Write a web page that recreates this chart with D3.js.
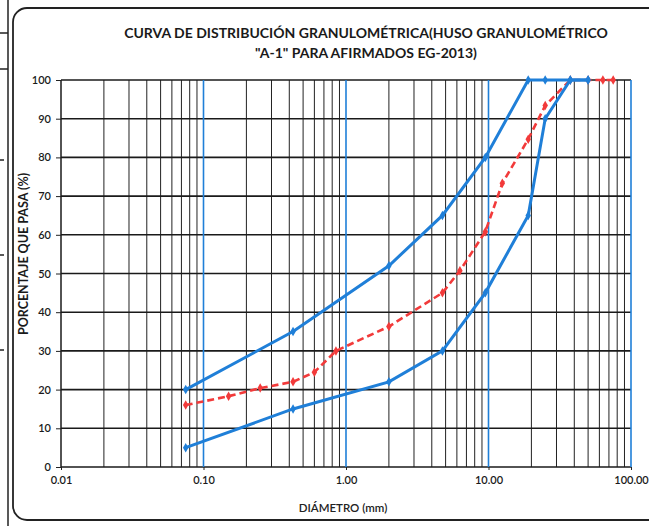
<!DOCTYPE html>
<html>
<head>
<meta charset="utf-8">
<script src="https://cdn.jsdelivr.net/npm/d3@7"></script>
<style>
  html, body { margin: 0; padding: 0; background: #fff; }
  svg { display: block; }
  text { font-family: Lato, "Open Sans", sans-serif; }
</style>
</head>
<body>
<script>
// Sieve openings (mm) and percent passing
const sieves = [0.075, 0.15, 0.25, 0.425, 0.6, 0.85, 2.0, 4.75, 6.3, 9.5, 12.5, 19, 25, 37.5, 50, 63.5, 75];
const muestra = [16, 18.3, 20.4, 22, 24.5, 30, 36.3, 45, 50.7, 60.8, 73.3, 84.7, 93.4, 100, 100, 100, 100];

// Gradation band "A-1"
const husoSieves = [0.075, 0.425, 2.0, 4.75, 9.5, 19, 25, 37.5, 50];
const husoMax = [20, 35, 52, 65, 80, 100, 100, 100, 100];
const husoMin = [5, 15, 22, 30, 45, 65, 90, 100, 100];

const xTicks = [0.01, 0.1, 1, 10, 100];
const xTickLabels = ["0.01", "0.10", "1.00", "10.00", "100.00"];
const yTicks = [0, 10, 20, 30, 40, 50, 60, 70, 80, 90, 100];

const titleLines = ["CURVA DE DISTRIBUCIÓN GRANULOMÉTRICA(HUSO GRANULOMÉTRICO", "\"A-1\" PARA AFIRMADOS EG-2013)"];
const xTitle = "DIÁMETRO (mm)";
const yTitle = "PORCENTAJE QUE PASA (%)";

const W = 649, H = 526;
const m = { left: 61, right: W - 631, top: 80, bottom: H - 467 };
const BLUE = "#1f7fd8", RED = "#f23a3a";

const svg = d3.select("body").append("svg").attr("width", W).attr("height", H);

// page remnants on the left edge and the rounded frame of the chart
const page = svg.append("g").attr("stroke", "#222").attr("fill", "none");
page.append("line").attr("x1", 8).attr("x2", 8).attr("y1", 0).attr("y2", H).attr("stroke-width", 1.5);
page.append("line").attr("x1", 0).attr("x2", 8).attr("y1", 33).attr("y2", 33).attr("stroke-width", 1.5);
page.append("line").attr("x1", 0).attr("x2", 8).attr("y1", 69).attr("y2", 69).attr("stroke-width", 1.5);
page.append("line").attr("x1", 0).attr("x2", 4).attr("y1", 160).attr("y2", 160).attr("stroke-width", 1.5);
page.append("line").attr("x1", 0).attr("x2", 4).attr("y1", 255).attr("y2", 255).attr("stroke-width", 1.5);
page.append("line").attr("x1", 0).attr("x2", 4).attr("y1", 350).attr("y2", 350).attr("stroke-width", 1.5);
page.append("rect").attr("x", 13).attr("y", 8).attr("width", 700).attr("height", 512)
  .attr("rx", 14).attr("stroke-width", 1.8);

const x = d3.scaleLog().domain([0.01, 100]).range([m.left, W - m.right]);
const y = d3.scaleLinear().domain([0, 100]).range([H - m.bottom, m.top]);

// vertical grid: minor lines of each decade, major decade lines in blue
const minor = [];
for (const d of [0.01, 0.1, 1, 10]) for (let k = 2; k <= 9; k++) minor.push(d * k);
const grid = svg.append("g");
grid.selectAll("line.vmin").data(minor).join("line")
  .attr("x1", d => x(d)).attr("x2", d => x(d))
  .attr("y1", y(0)).attr("y2", y(100))
  .attr("stroke", "#222").attr("stroke-width", 1);
grid.selectAll("line.h").data(yTicks).join("line")
  .attr("x1", x(0.01)).attr("x2", x(100))
  .attr("y1", d => y(d)).attr("y2", d => y(d))
  .attr("stroke", "#1a1a1a").attr("stroke-width", 1.6);
grid.selectAll("line.vmaj").data(xTicks).join("line")
  .attr("x1", d => x(d)).attr("x2", d => x(d))
  .attr("y1", y(0)).attr("y2", y(100))
  .attr("stroke", d => d === 0.01 ? "#1a1a1a" : BLUE)
  .attr("stroke-width", d => d === 0.01 ? 1.5 : 1.6);

// axes
const yAxis = d3.axisLeft(y).tickValues(yTicks).tickSize(5).tickPadding(5);
const gy = svg.append("g").attr("transform", `translate(${x(0.01)},0)`).call(yAxis);
gy.select(".domain").remove();
gy.selectAll("line").attr("stroke", "#222");
gy.selectAll("text").attr("font-size", 11).attr("font-weight", 600).attr("fill", "#1a1a1a")
  .attr("font-family", "Lato, sans-serif");

const xAxis = d3.axisBottom(x).tickValues(xTicks).tickFormat((d, i) => xTickLabels[i]).tickSize(3).tickPadding(6);
const gx = svg.append("g").attr("transform", `translate(0,${y(0)})`).call(xAxis);
gx.select(".domain").remove();
gx.selectAll("line").attr("stroke", "#222");
gx.selectAll("text").attr("font-size", 11).attr("font-weight", 600).attr("fill", "#1a1a1a")
  .attr("font-family", "Lato, sans-serif");

// series
const line = d3.line().x(d => x(d[0])).y(d => y(d[1]));
const diamond = d3.symbol().type(d3.symbolDiamond).size(26);

const sample = d3.zip(sieves, muestra);
svg.append("path").datum(sample).attr("d", line).attr("fill", "none")
  .attr("stroke", RED).attr("stroke-width", 2.6).attr("stroke-dasharray", "7,4");
svg.append("g").selectAll("path").data(sample).join("path")
  .attr("d", diamond).attr("transform", d => `translate(${x(d[0])},${y(d[1])})`)
  .attr("fill", RED);

for (const vals of [husoMax, husoMin]) {
  const pts = d3.zip(husoSieves, vals);
  svg.append("path").datum(pts).attr("d", line).attr("fill", "none")
    .attr("stroke", BLUE).attr("stroke-width", 3);
  svg.append("g").selectAll("path").data(pts).join("path")
    .attr("d", diamond).attr("transform", d => `translate(${x(d[0])},${y(d[1])})`)
    .attr("fill", BLUE);
}

// titles
const title = svg.append("text").attr("text-anchor", "middle").attr("font-size", 14)
  .attr("font-weight", 700).attr("fill", "#1a1a1a");
titleLines.forEach((t, i) => title.append("tspan").attr("x", 366).attr("y", 38 + i * 20).text(t));

svg.append("text").attr("x", 343).attr("y", 512).attr("text-anchor", "middle")
  .attr("font-size", 11.5).attr("font-weight", 600).attr("fill", "#222").text(xTitle);

svg.append("text").attr("transform", "translate(28,254) rotate(-90)").attr("text-anchor", "middle")
  .attr("font-size", 12.5).attr("font-weight", 700).attr("fill", "#1a1a1a").text(yTitle);
</script>
</body>
</html>
